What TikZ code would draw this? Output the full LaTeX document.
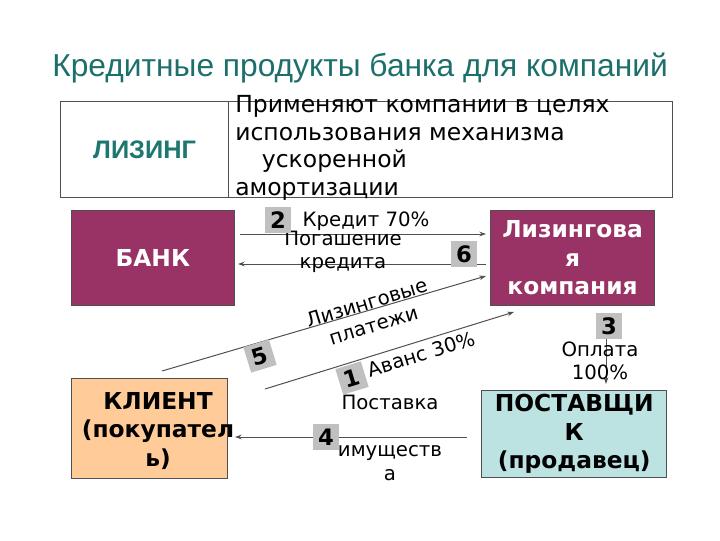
\documentclass[tikz,border=0pt]{standalone}
\usepackage{fontspec}
\setmainfont{DejaVu Sans}
\newfontfamily\arialf{Liberation Sans}
\usetikzlibrary{arrows.meta}
\definecolor{titleteal}{HTML}{1C6F6A}
\definecolor{lizteal}{HTML}{1E7670}
\definecolor{plum}{HTML}{993366}
\definecolor{peach}{HTML}{FFCC99}
\definecolor{aqua}{HTML}{BCE2E2}
\definecolor{numgray}{HTML}{C0C0C0}
\definecolor{linegray}{HTML}{505050}
\begin{document}
\begin{tikzpicture}[x=0.75pt,y=-0.75pt,
  cell/.style={draw=linegray, line width=0.9pt, minimum height=72pt, inner sep=0pt},
  bigbox/.style={draw=linegray, line width=0.8pt, inner sep=0pt, align=center,
    font=\fontsize{17.5}{21.5}\selectfont\bfseries},
  boxtext/.style={inner sep=0pt, align=center, font=\fontsize{17.5}{21.5}\selectfont\bfseries},
  numbox/.style={fill=numgray, minimum width=20pt, minimum height=20pt, inner sep=0pt,
    font=\fontsize{17}{19}\selectfont\bfseries},
  lbl/.style={align=center, font=\fontsize{14.8}{17.5}\selectfont, inner sep=0pt},
  arr/.style={draw=linegray, line width=0.75pt, -{Stealth[length=5pt,width=3.5pt]}}
]
\useasboundingbox (0,0) rectangle (720,540);

\node[font=\arialf\fontsize{23.8}{28}\selectfont, text=titleteal] (title) at (360,68) {Кредитные продукты банка для компаний};

\node[cell, minimum width=126pt, anchor=north west, text=lizteal,
  font=\arialf\fontsize{19}{22}\selectfont\bfseries] (lizing) at (60,101) {ЛИЗИНГ};
\node[cell, minimum width=333pt, anchor=north west] (desc) at (228,101) {};
\node[anchor=north west, align=left, inner sep=0pt,
  font=\fontsize{17.6}{20.8}\selectfont] (desctext) at (235,95)
  {Применяют компании в целях\\использования механизма\\\hspace*{20pt}ускоренной\\амортизации};

\node[bigbox, fill=plum, text=white, minimum width=122pt, minimum height=71pt, anchor=north west] (bank) at (71,210) {БАНК};
\node[bigbox, fill=plum, text=white, minimum width=123pt, minimum height=71pt, anchor=north west] (lc) at (490,210) {Лизингова\\я\\компания};
\node[bigbox, fill=peach, minimum width=117pt, minimum height=75pt, anchor=north west] (client) at (71,378) {};
\node[boxtext] (clienttext) at (158,431) {КЛИЕНТ\\(покупател\\ь)};
\node[bigbox, fill=aqua, minimum width=139pt, minimum height=65pt, anchor=north west] (supplier) at (481,390) {ПОСТАВЩИ\\К\\(продавец)};

% connector end points
\coordinate (a2s) at (240,234);
\coordinate (a2e) at (486,234);
\coordinate (a6s) at (486,264);
\coordinate (a6e) at (238,264);
\coordinate (a5s) at (162,371);
\coordinate (a5e) at (486,276);
\coordinate (a1s) at (265,389);
\coordinate (a1e) at (514,312);
\coordinate (a3s) at (606,336);
\coordinate (a3e) at (606,384);
\coordinate (a4s) at (467,437);
\coordinate (a4e) at (235,437);

\draw[arr] (a2s) -- (a2e);
\draw[arr] (a6s) -- (a6e);
\draw[arr] (a5s) -- (a5e);
\draw[arr] (a1s) -- (a1e);
\draw[arr] (a3s) -- (a3e);
\draw[arr] (a4s) -- (a4e);

% labels
\node[lbl] (t2) at (366,221) {Кредит 70\%};
\node[lbl] (t6) at (343,252) {Погашение\\кредита};
\node[lbl, rotate=17] (t5) at (370,314) {Лизинговые\\платежи};
\node[lbl, rotate=17] (t1) at (421,354) {Аванс 30\%};
\node[lbl] (t3) at (600,361) {Оплата\\100\%};
\node[lbl] (t4a) at (390,402) {Поставка};
\node[lbl] (t4b) at (390,463) {имуществ\\а};

% number boxes
\node[numbox] (n2) at (278,220) {2};
\node[numbox] (n6) at (464,254) {6};
\node[numbox, rotate=17] (n5) at (260,356) {5};
\node[numbox, rotate=17] (n1) at (352,378) {1};
\node[numbox] (n3) at (609,326) {3};
\node[numbox] (n4) at (326,437) {4};
\end{tikzpicture}
\end{document}
